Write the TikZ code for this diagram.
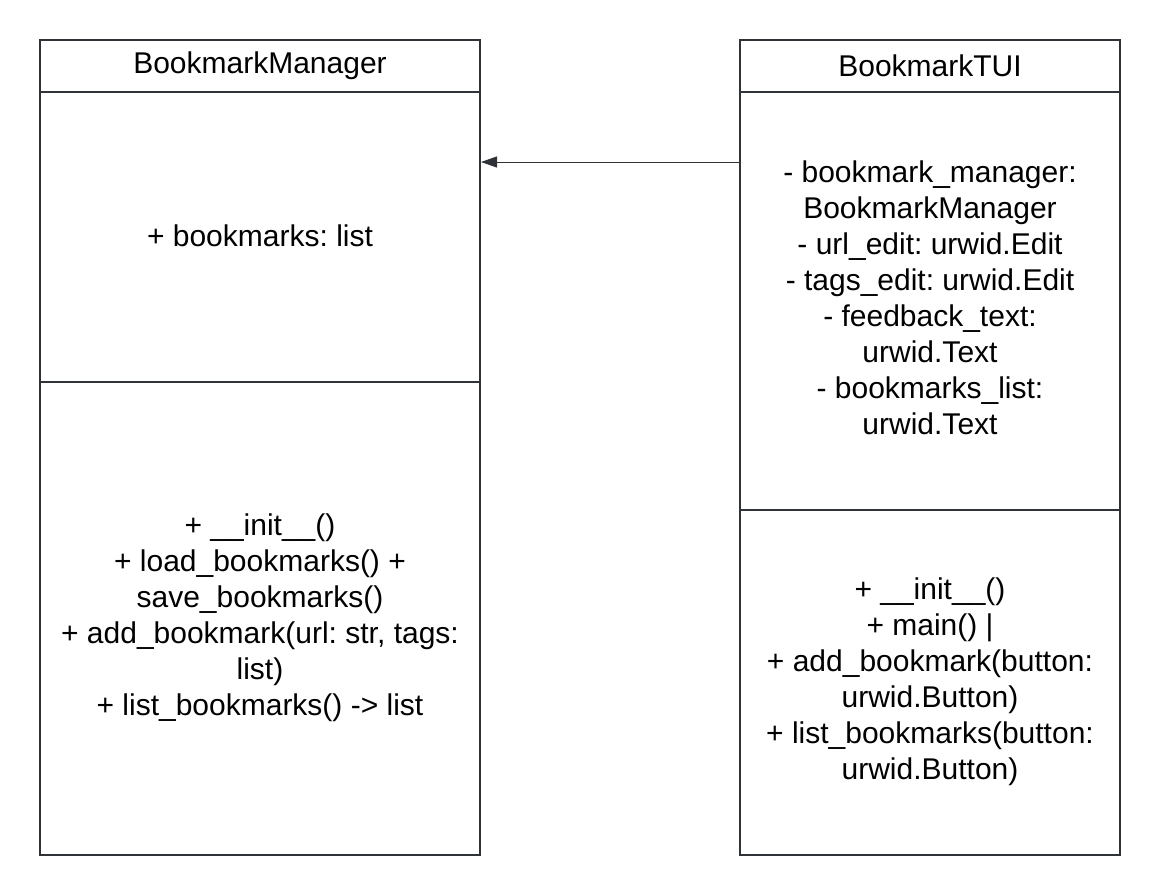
\documentclass[tikz,border=0pt]{standalone}
\usepackage{fontspec}
\setmainfont{Liberation Sans}
\usetikzlibrary{arrows.meta}
\definecolor{lc}{HTML}{2F3236}
\frenchspacing
\begin{document}
\begin{tikzpicture}[x=1pt,y=-1pt,
  box/.style={draw=lc,line width=1.5pt},
  txt/.style={align=center,font=\fontsize{30}{36}\selectfont\frenchspacing,inner sep=0pt},
  conn/.style={draw=lc,line width=1pt,-{Triangle[length=16pt,width=11pt]}}]
\useasboundingbox (0,0) rectangle (1160,895);
% left class
\draw[box] (40,40) rectangle (480,855);
\draw[box] (40,92) -- (480,92);
\draw[box] (40,382) -- (480,382);
\node[txt] (lm) at (260,66) {BookmarkManager};
\node[txt] (la) at (260,236) {+ bookmarks: list};
\node[txt] (lo) at (260,618) {+ \_\_init\_\_()\\+ load\_bookmarks() +\\save\_bookmarks()\\+ add\_bookmark(url: str, tags:\\list)\\+ list\_bookmarks() -> list};
% right class
\draw[box] (740,40) rectangle (1120,855);
\draw[box] (740,92) -- (1120,92);
\draw[box] (740,510) -- (1120,510);
\node[txt] (rm) at (930,66) {BookmarkTUI};
\node[txt] (ra) at (930,298) {- bookmark\_manager:\\BookmarkManager\\- url\_edit: urwid.Edit\\- tags\_edit: urwid.Edit\\- feedback\_text:\\urwid.Text\\- bookmarks\_list:\\urwid.Text};
\node[txt] (ro) at (930,682) {+ \_\_init\_\_()\\+ main() |\\+ add\_bookmark(button:\\urwid.Button)\\+ list\_bookmarks(button:\\urwid.Button)};
\coordinate (s) at (740,162);
\coordinate (t) at (481,162);
\draw[conn] (s) -- (t);
\end{tikzpicture}
\end{document}
